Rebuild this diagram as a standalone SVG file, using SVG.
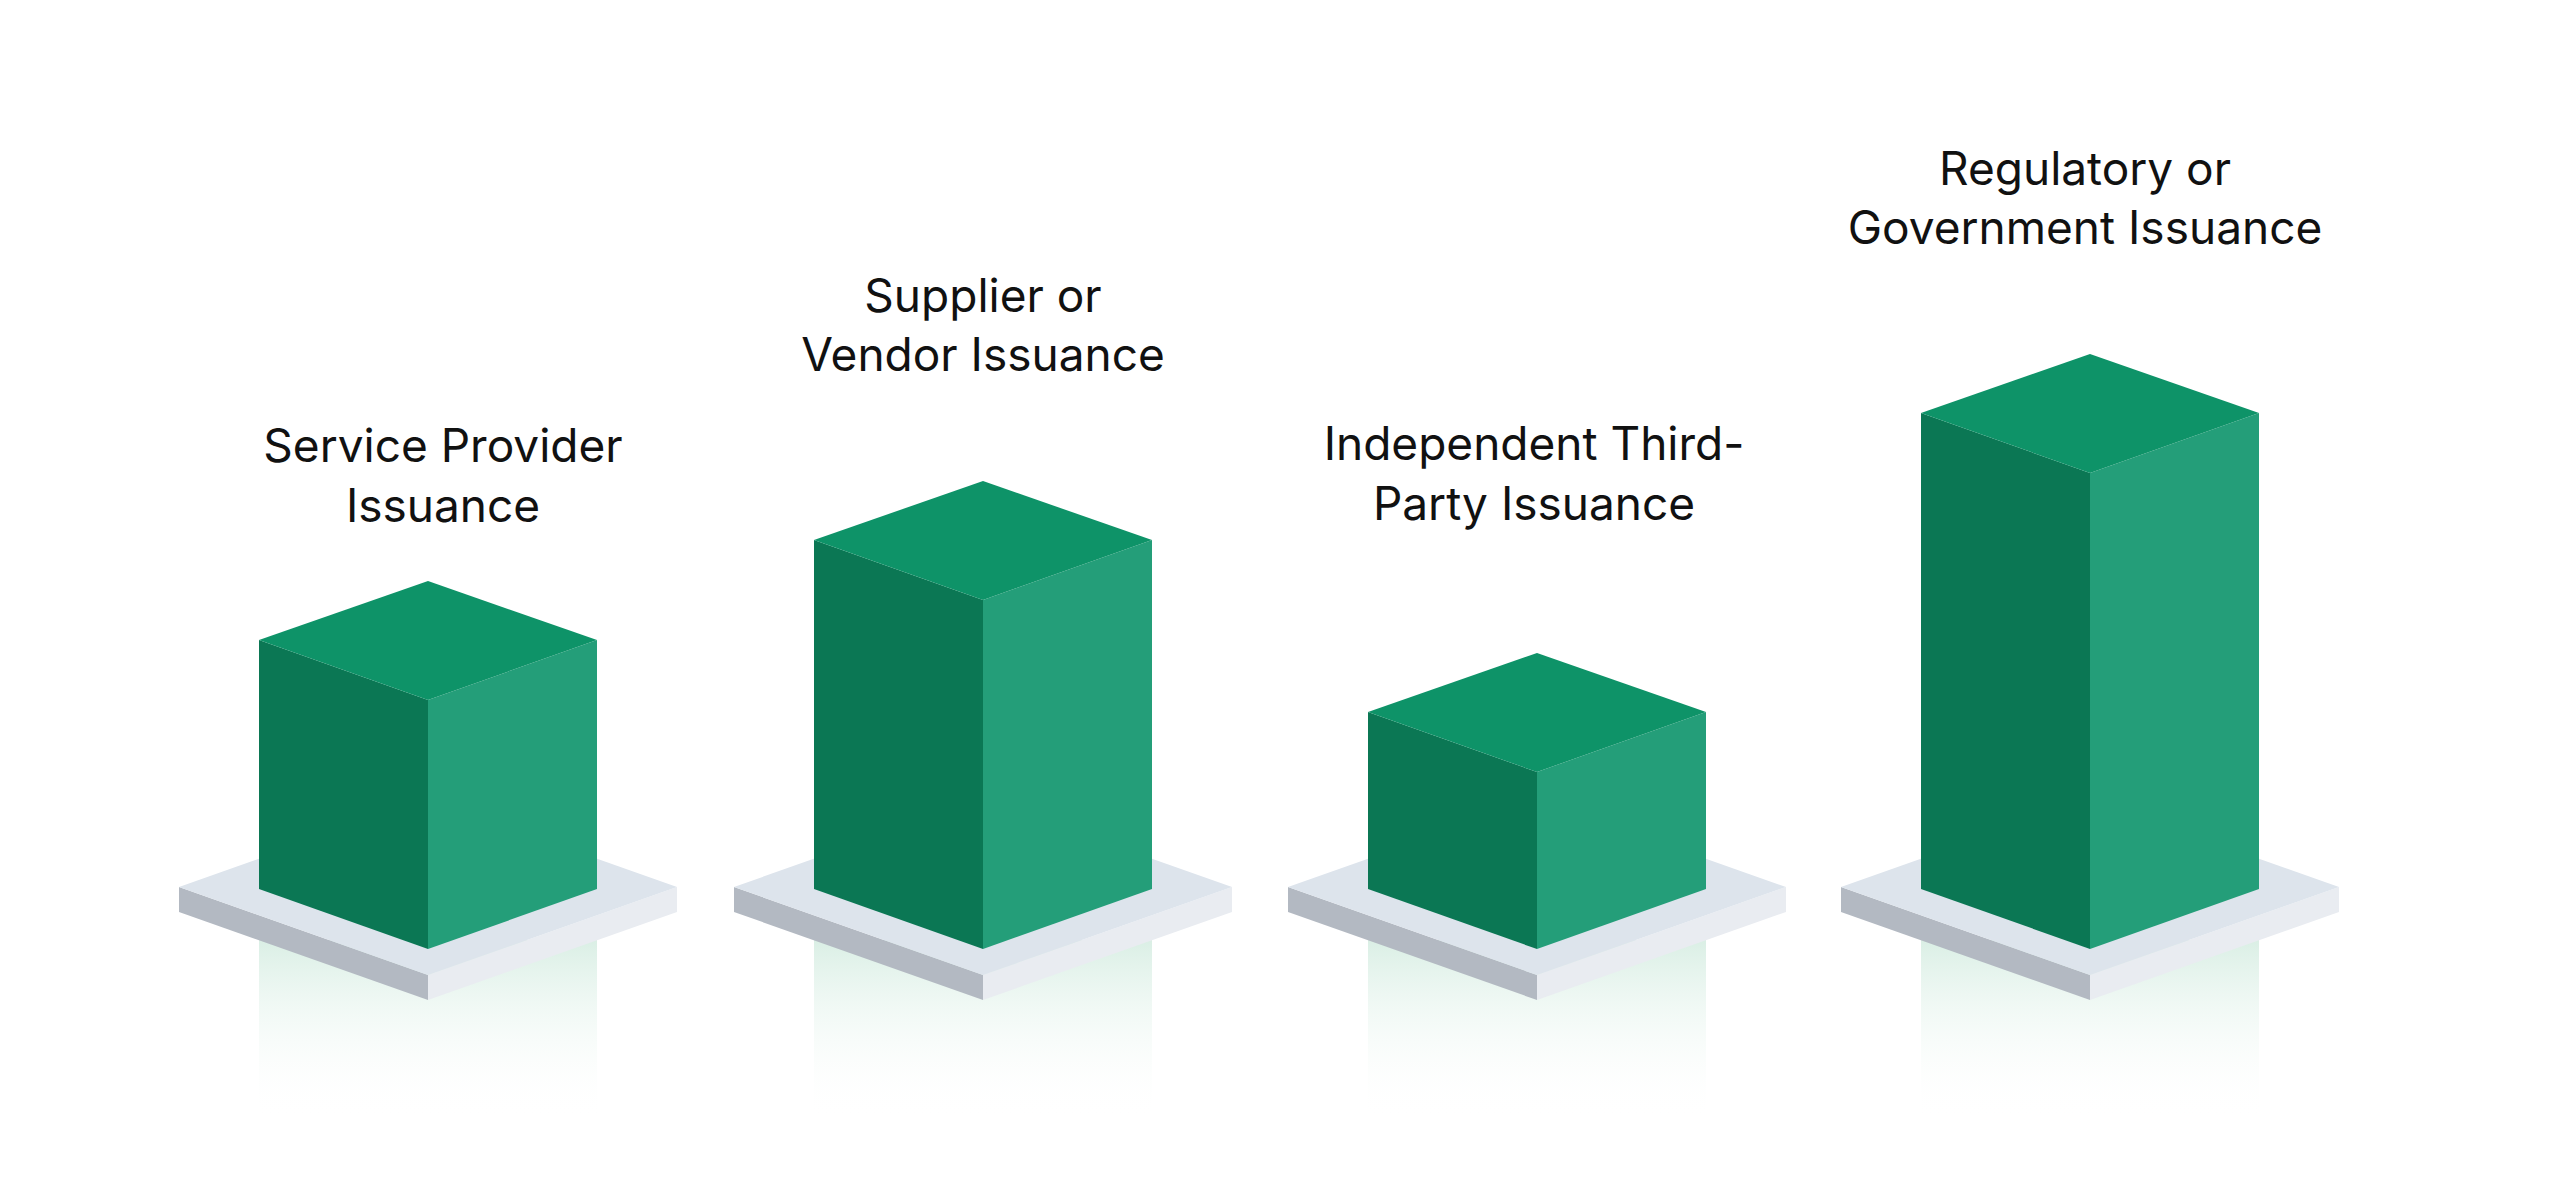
<svg xmlns="http://www.w3.org/2000/svg" width="2560" height="1177" viewBox="0 0 2560 1177">
<defs>
<style>
.top{fill:#0E9368}.left{fill:#0B7754}.right{fill:#249E79}
.ptop{fill:#DDE4EC}.pl{fill:#B3B9C2}.pr{fill:#E9ECF1}
.lbl{font-family:Inter,"Liberation Sans",sans-serif;font-size:46px;fill:#111;text-anchor:middle}
</style>
<linearGradient id="refl" x1="0" y1="0" x2="0" y2="1">
<stop offset="0" stop-color="#D6EDE2" stop-opacity="0.9"/>
<stop offset="1" stop-color="#FFFFFF" stop-opacity="0"/>
</linearGradient>
<g id="base">
<rect x="-169" y="940" width="338" height="180" fill="url(#refl)"/>
<polygon class="pl" points="-249,887 0,975 0,1000 -249,912"/>
<polygon class="pr" points="249,887 0,975 0,1000 249,912"/>
<polygon class="ptop" points="-249,887 0,799 249,887 0,975"/>
</g>
</defs>
<rect width="2560" height="1177" fill="#fff"/>
<g id="bar1" transform="translate(428,0)">
<use href="#base"/>
<polygon class="left" points="-169,640 0,700 0,949 -169,889"/>
<polygon class="right" points="169,640 0,700 0,949 169,889"/>
<polygon class="top" points="-169,640 0,581 169,640 0,700"/>
<text class="lbl" x="15" y="462">Service Provider</text>
<text class="lbl" x="15" y="522">Issuance</text>
</g>
<g id="bar2" transform="translate(983,0)">
<use href="#base"/>
<polygon class="left" points="-169,540 0,600 0,949 -169,889"/>
<polygon class="right" points="169,540 0,600 0,949 169,889"/>
<polygon class="top" points="-169,540 0,481 169,540 0,600"/>
<text class="lbl" x="0" y="312">Supplier or</text>
<text class="lbl" x="0" y="371">Vendor Issuance</text>
</g>
<g id="bar3" transform="translate(1537,0)">
<use href="#base"/>
<polygon class="left" points="-169,712 0,772 0,949 -169,889"/>
<polygon class="right" points="169,712 0,772 0,949 169,889"/>
<polygon class="top" points="-169,712 0,653 169,712 0,772"/>
<text class="lbl" x="-3" y="460">Independent Third-</text>
<text class="lbl" x="-3" y="520">Party Issuance</text>
</g>
<g id="bar4" transform="translate(2090,0)">
<use href="#base"/>
<polygon class="left" points="-169,413 0,473 0,949 -169,889"/>
<polygon class="right" points="169,413 0,473 0,949 169,889"/>
<polygon class="top" points="-169,413 0,354 169,413 0,473"/>
<text class="lbl" x="-5" y="185">Regulatory or</text>
<text class="lbl" x="-5" y="244">Government Issuance</text>
</g>
<g id="connectors"/>
</svg>
